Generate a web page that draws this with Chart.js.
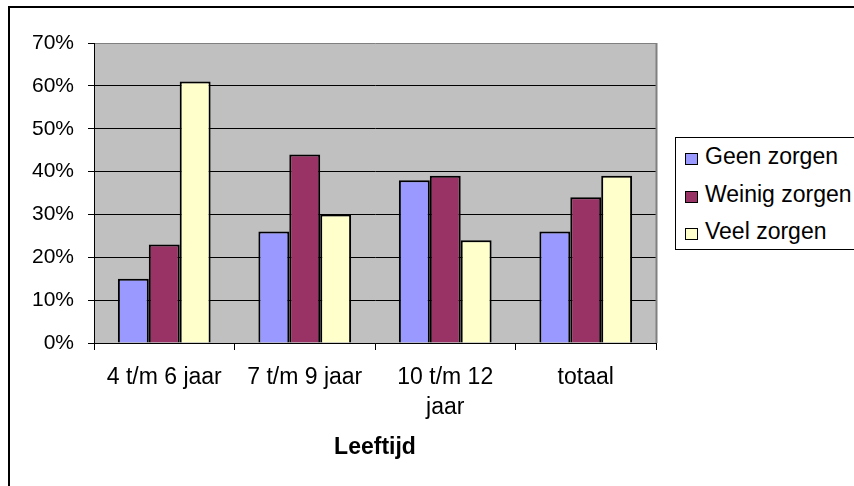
<!DOCTYPE html>
<html>
<head>
<meta charset="utf-8">
<script src="https://cdn.jsdelivr.net/npm/chart.js@4.4.1/dist/chart.umd.min.js"></script>
<style>
  html, body { margin: 0; padding: 0; background: #fff; }
  body { width: 854px; height: 486px; position: relative; overflow: hidden; font-family: 'Liberation Sans', Arial, sans-serif; }
  #frame { position: absolute; left: 8px; top: 6px; width: 900px; height: 600px; border: 2px solid #000; box-sizing: border-box; }
  #wrap { position: absolute; left: 0; top: 0; width: 854px; height: 486px; }
  #legend { position: absolute; left: 675px; top: 137px; width: 200px; height: 113px; border: 1px solid #000; box-sizing: border-box; background: #fff; }
  .lg-row { position: absolute; left: 0; height: 26px; line-height: 26px; font-size: 23px; color: #000; white-space: nowrap; }
  .lg-sw { position: absolute; width: 13px; height: 12px; border: 1px solid #000; box-sizing: border-box; }
</style>
</head>
<body>
<div id="frame"></div>
<div id="wrap"><canvas id="c" width="854" height="486"></canvas></div>
<div id="legend"></div>
<script>
const categories = [['4 t/m 6 jaar'], ['7 t/m 9 jaar'], ['10 t/m 12', 'jaar'], ['totaal']];
const seriesNames = ['Geen zorgen', 'Weinig zorgen', 'Veel zorgen'];
const geenZorgen = [15, 26, 38, 26];
const weinigZorgen = [23, 44, 39, 34];
const veelZorgen = [61, 30, 24, 39];
const seriesColors = ['#9999FF', '#993366', '#FFFFCC'];
const xTitle = 'Leeftijd';
const yMax = 70;
const yStep = 10;

const FONT = "'Liberation Sans', Arial, sans-serif";
const seriesValues = [geenZorgen, weinigZorgen, veelZorgen];

const plotBg = {
  id: 'plotBg',
  beforeDraw(chart) {
    const {ctx, chartArea: a} = chart;
    ctx.save();
    ctx.fillStyle = '#C0C0C0';
    ctx.fillRect(a.left, a.top, a.right - a.left, a.bottom - a.top);
    ctx.restore();
  },
  afterDraw(chart) {
    const {ctx, chartArea: a} = chart;
    ctx.save();
    ctx.strokeStyle = '#808080';
    ctx.lineWidth = 2;
    ctx.beginPath();
    ctx.moveTo(a.right + 0.5, a.top);
    ctx.lineTo(a.right + 0.5, a.bottom);
    ctx.stroke();
    ctx.restore();
  }
};

new Chart(document.getElementById('c'), {
  type: 'bar',
  data: {
    labels: categories,
    datasets: seriesNames.map((name, i) => ({
      label: name,
      data: seriesValues[i],
      backgroundColor: seriesColors[i],
      borderColor: '#000',
      borderWidth: 2,
      categoryPercentage: 0.66,
      barPercentage: 1.0
    }))
  },
  options: {
    responsive: false,
    animation: false,
    devicePixelRatio: 1,
    layout: { padding: { left: 0, top: 43, right: 198, bottom: 0 } },
    plugins: { legend: { display: false }, tooltip: { enabled: false } },
    scales: {
      x: {
        offset: true,
        grid: { offset: true, drawOnChartArea: false, drawTicks: true, tickLength: 7, color: '#000', lineWidth: 1 },
        border: { color: '#000', width: 1 },
        ticks: { color: '#000', font: { family: FONT, size: 23, lineHeight: 1.3 }, padding: 13, maxRotation: 0, minRotation: 0, autoSkip: false },
        title: { display: true, text: xTitle, color: '#000', font: { family: FONT, size: 23, weight: 'bold', lineHeight: 1.2 }, padding: { top: 0, bottom: 25 } },
        afterFit(scale) { scale.height = 143; }
      },
      y: {
        min: 0,
        max: yMax,
        ticks: { stepSize: yStep, color: '#000', font: { family: FONT, size: 21 }, padding: 14, callback: v => v + '%' },
        grid: {
          color: ctx => (ctx.tick && ctx.tick.value === yMax) ? '#808080' : '#000',
          tickColor: '#000',
          lineWidth: 1,
          drawTicks: true,
          tickLength: 6
        },
        border: { color: '#000', width: 1 },
        afterFit(scale) { scale.width = 94; }
      }
    }
  },
  plugins: [plotBg]
});

const legend = document.getElementById('legend');
seriesNames.forEach((name, i) => {
  const rowTop = 5 + i * 37.5;
  const sw = document.createElement('div');
  sw.className = 'lg-sw';
  sw.style.left = '9px';
  sw.style.top = (rowTop + 10) + 'px';
  sw.style.background = seriesColors[i];
  legend.appendChild(sw);
  const row = document.createElement('div');
  row.className = 'lg-row';
  row.style.left = '29px';
  row.style.top = rowTop + 'px';
  row.textContent = name;
  legend.appendChild(row);
});
</script>
</body>
</html>
